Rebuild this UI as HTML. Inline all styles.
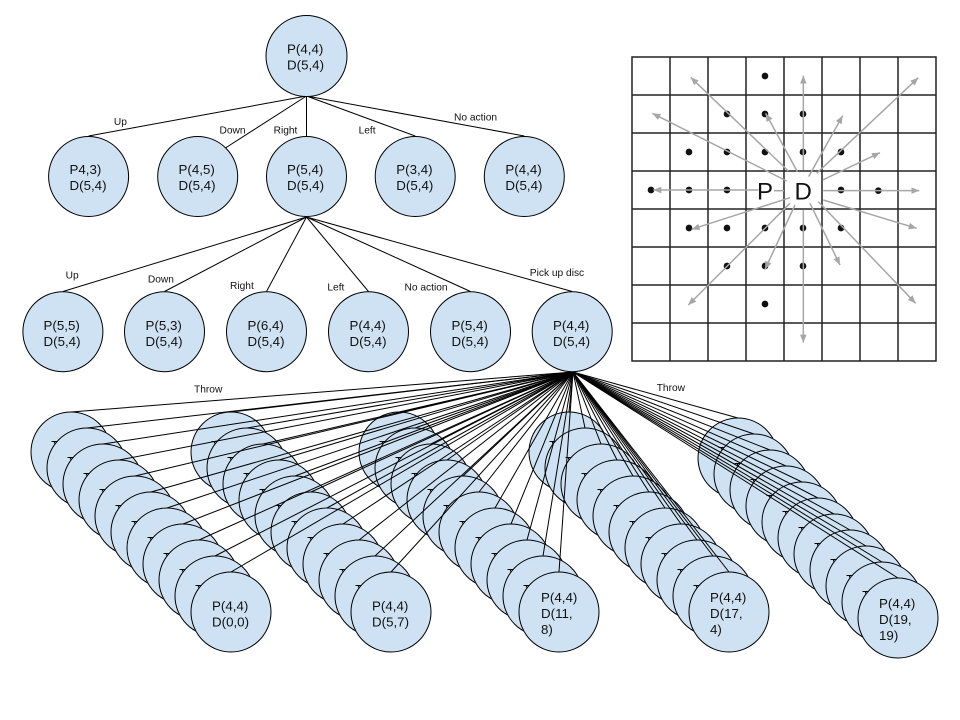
<!DOCTYPE html>
<html><head><meta charset="utf-8"><style>
html,body{margin:0;padding:0;background:#fff}
svg{display:block}
text{font-family:"Liberation Sans",sans-serif;font-size:13.33px;fill:#111}
.e{font-size:10.2px}
#t circle{fill:#cfe2f3;stroke:#000;stroke-width:1}
#t path{stroke:#000;stroke-width:1;fill:none}
</style></head><body>
<svg width="960" height="720" viewBox="0 0 960 720" xmlns="http://www.w3.org/2000/svg">
<rect width="960" height="720" fill="#fff"/>
<g id="t">
<path d="M306.5 96L88.6 136M306.5 96L225.4 148M306.5 96V136M306.5 96L415.2 136M306.5 96L524.3 136"/>
<path d="M306.5 217L62.9 291.5M306.5 217L164.5 291.5M306.5 217L266.5 291.5M306.5 217L368.5 291.5M306.5 217L470.5 291.5M306.5 217L572.2 291.5"/>
<circle cx="306.5" cy="56" r="40.5"/><text x="287" y="53.5">P(4,4)</text><text x="287" y="69.5">D(5,4)</text>
<circle cx="88.6" cy="176.5" r="40"/><text x="69.5" y="174">P4,3)</text><text x="69.5" y="190">D(5,4)</text>
<circle cx="197.7" cy="176.5" r="40"/><text x="178.5" y="174">P(4,5)</text><text x="178.5" y="190">D(5,4)</text>
<circle cx="306.5" cy="176.5" r="40"/><text x="287" y="174">P(5,4)</text><text x="287" y="190">D(5,4)</text>
<circle cx="415.2" cy="176.5" r="40"/><text x="396.3" y="174">P(3,4)</text><text x="396.3" y="190">D(5,4)</text>
<circle cx="524.3" cy="176.5" r="40"/><text x="505.4" y="174">P(4,4)</text><text x="505.4" y="190">D(5,4)</text>
<circle cx="62.9" cy="331.7" r="40"/><text x="43.5" y="330">P(5,5)</text><text x="43.5" y="346">D(5,4)</text>
<circle cx="164.5" cy="331.7" r="40"/><text x="145.5" y="330">P(5,3)</text><text x="145.5" y="346">D(5,4)</text>
<circle cx="266.5" cy="331.7" r="40"/><text x="247.5" y="330">P(6,4)</text><text x="247.5" y="346">D(5,4)</text>
<circle cx="368.5" cy="331.7" r="40"/><text x="349.5" y="330">P(4,4)</text><text x="349.5" y="346">D(5,4)</text>
<circle cx="470.5" cy="331.7" r="40"/><text x="451.5" y="330">P(5,4)</text><text x="451.5" y="346">D(5,4)</text>
<circle cx="572.2" cy="331.7" r="40"/><text x="553" y="330">P(4,4)</text><text x="553" y="346">D(5,4)</text>

<circle cx="738" cy="458" r="40"/><path d="M718.5 447.5h6M721.5 447.5v2M573 372L738 418"/>
<circle cx="754" cy="474" r="40"/><path d="M734.5 463.5h6M737.5 463.5v2M573 372L754 434"/>
<circle cx="770" cy="490" r="40"/><path d="M750.5 479.5h6M753.5 479.5v2M573 372L770 450"/>
<circle cx="786" cy="506" r="40"/><path d="M766.5 495.5h6M769.5 495.5v2M573 372L786 466"/>
<circle cx="802" cy="522" r="40"/><path d="M782.5 511.5h6M785.5 511.5v2M573 372L802 482"/>
<circle cx="818" cy="538" r="40"/><path d="M798.5 527.5h6M801.5 527.5v2M573 372L818 498"/>
<circle cx="834" cy="554" r="40"/><path d="M814.5 543.5h6M817.5 543.5v2M573 372L834 514"/>
<circle cx="850" cy="570" r="40"/><path d="M830.5 559.5h6M833.5 559.5v2M573 372L850 530"/>
<circle cx="866" cy="586" r="40"/><path d="M846.5 575.5h6M849.5 575.5v2M573 372L866 546"/>
<circle cx="882" cy="602" r="40"/><path d="M862.5 591.5h6M865.5 591.5v2M573 372L882 562"/>
<circle cx="898" cy="618" r="40"/><text x="879" y="608">P(4,4)</text><text x="879" y="624">D(19,</text><text x="879" y="640">19)</text><path d="M573 372L898 578"/>

<circle cx="569" cy="452" r="40"/><path d="M549.5 441.5h6M552.5 441.5v2M573 372L569 412"/>
<circle cx="585" cy="468" r="40"/><path d="M565.5 457.5h6M568.5 457.5v2M573 372L585 428"/>
<circle cx="601" cy="484" r="40"/><path d="M581.5 473.5h6M584.5 473.5v2M573 372L601 444"/>
<circle cx="617" cy="500" r="40"/><path d="M597.5 489.5h6M600.5 489.5v2M573 372L617 460"/>
<circle cx="633" cy="516" r="40"/><path d="M613.5 505.5h6M616.5 505.5v2M573 372L633 476"/>
<circle cx="649" cy="532" r="40"/><path d="M629.5 521.5h6M632.5 521.5v2M573 372L649 492"/>
<circle cx="665" cy="548" r="40"/><path d="M645.5 537.5h6M648.5 537.5v2M573 372L665 508"/>
<circle cx="681" cy="564" r="40"/><path d="M661.5 553.5h6M664.5 553.5v2M573 372L681 524"/>
<circle cx="697" cy="580" r="40"/><path d="M677.5 569.5h6M680.5 569.5v2M573 372L697 540"/>
<circle cx="713" cy="596" r="40"/><path d="M693.5 585.5h6M696.5 585.5v2M573 372L713 556"/>
<circle cx="729" cy="612" r="40"/><text x="710" y="602">P(4,4)</text><text x="710" y="618">D(17,</text><text x="710" y="634">4)</text><path d="M573 372L729 572"/>

<circle cx="399" cy="452" r="40"/><path d="M379.5 441.5h6M382.5 441.5v2M573 372L399 412"/>
<circle cx="415" cy="468" r="40"/><path d="M395.5 457.5h6M398.5 457.5v2M573 372L415 428"/>
<circle cx="431" cy="484" r="40"/><path d="M411.5 473.5h6M414.5 473.5v2M573 372L431 444"/>
<circle cx="447" cy="500" r="40"/><path d="M427.5 489.5h6M430.5 489.5v2M573 372L447 460"/>
<circle cx="463" cy="516" r="40"/><path d="M443.5 505.5h6M446.5 505.5v2M573 372L463 476"/>
<circle cx="479" cy="532" r="40"/><path d="M459.5 521.5h6M462.5 521.5v2M573 372L479 492"/>
<circle cx="495" cy="548" r="40"/><path d="M475.5 537.5h6M478.5 537.5v2M573 372L495 508"/>
<circle cx="511" cy="564" r="40"/><path d="M491.5 553.5h6M494.5 553.5v2M573 372L511 524"/>
<circle cx="527" cy="580" r="40"/><path d="M507.5 569.5h6M510.5 569.5v2M573 372L527 540"/>
<circle cx="543" cy="596" r="40"/><path d="M523.5 585.5h6M526.5 585.5v2M573 372L543 556"/>
<circle cx="559" cy="612" r="40"/><text x="541" y="602">P(4,4)</text><text x="541" y="618">D(11,</text><text x="541" y="634">8)</text><path d="M573 372L559 572"/>

<circle cx="231" cy="452" r="40"/><path d="M211.5 441.5h6M214.5 441.5v2M573 372L231 412"/>
<circle cx="247" cy="468" r="40"/><path d="M227.5 457.5h6M230.5 457.5v2M573 372L247 428"/>
<circle cx="263" cy="484" r="40"/><path d="M243.5 473.5h6M246.5 473.5v2M573 372L263 444"/>
<circle cx="279" cy="500" r="40"/><path d="M259.5 489.5h6M262.5 489.5v2M573 372L279 460"/>
<circle cx="295" cy="516" r="40"/><path d="M275.5 505.5h6M278.5 505.5v2M573 372L295 476"/>
<circle cx="311" cy="532" r="40"/><path d="M291.5 521.5h6M294.5 521.5v2M573 372L311 492"/>
<circle cx="327" cy="548" r="40"/><path d="M307.5 537.5h6M310.5 537.5v2M573 372L327 508"/>
<circle cx="343" cy="564" r="40"/><path d="M323.5 553.5h6M326.5 553.5v2M573 372L343 524"/>
<circle cx="359" cy="580" r="40"/><path d="M339.5 569.5h6M342.5 569.5v2M573 372L359 540"/>
<circle cx="375" cy="596" r="40"/><path d="M355.5 585.5h6M358.5 585.5v2M573 372L375 556"/>
<circle cx="391" cy="612" r="40"/><text x="372" y="610.5">P(4,4)</text><text x="372" y="626.5">D(5,7)</text><path d="M573 372L391 572"/>

<circle cx="71" cy="452" r="40"/><path d="M51.5 441.5h6M54.5 441.5v2M573 372L71 412"/>
<circle cx="87" cy="468" r="40"/><path d="M67.5 457.5h6M70.5 457.5v2M573 372L87 428"/>
<circle cx="103" cy="484" r="40"/><path d="M83.5 473.5h6M86.5 473.5v2M573 372L103 444"/>
<circle cx="119" cy="500" r="40"/><path d="M99.5 489.5h6M102.5 489.5v2M573 372L119 460"/>
<circle cx="135" cy="516" r="40"/><path d="M115.5 505.5h6M118.5 505.5v2M573 372L135 476"/>
<circle cx="151" cy="532" r="40"/><path d="M131.5 521.5h6M134.5 521.5v2M573 372L151 492"/>
<circle cx="167" cy="548" r="40"/><path d="M147.5 537.5h6M150.5 537.5v2M573 372L167 508"/>
<circle cx="183" cy="564" r="40"/><path d="M163.5 553.5h6M166.5 553.5v2M573 372L183 524"/>
<circle cx="199" cy="580" r="40"/><path d="M179.5 569.5h6M182.5 569.5v2M573 372L199 540"/>
<circle cx="215" cy="596" r="40"/><path d="M195.5 585.5h6M198.5 585.5v2M573 372L215 556"/>
<circle cx="231" cy="612" r="40"/><text x="212" y="610.5">P(4,4)</text><text x="212" y="626.5">D(0,0)</text><path d="M573 372L231 572"/>
</g>

<text class="e" x="113.9" y="125">Up</text>
<text class="e" x="219.5" y="133.3">Down</text>
<text class="e" x="273.6" y="133.3">Right</text>
<text class="e" x="358.6" y="133.3">Left</text>
<text class="e" x="454" y="120.7">No action</text>
<text class="e" x="65.6" y="278.3">Up</text>
<text class="e" x="147.9" y="282.7">Down</text>
<text class="e" x="230" y="289">Right</text>
<text class="e" x="327.4" y="290.7">Left</text>
<text class="e" x="404.5" y="290.7">No action</text>
<text class="e" x="529.8" y="276">Pick up disc</text>
<text class="e" x="194" y="392.3">Throw</text>
<text class="e" x="656.7" y="391">Throw</text>

<defs><marker id="a" markerUnits="userSpaceOnUse" markerWidth="26" markerHeight="22" refX="24" refY="11" orient="auto"><path d="M0 1L24 11L0 21Z" fill="#a6a6a6"/></marker></defs>
<g transform="translate(620 45) scale(.33333)">
<rect x="36" y="36" width="912" height="912" fill="#fff"/>
<path d="M36 36H948V948H36ZM36 150H948M36 264H948M36 378H948M36 492H948M36 606H948M36 720H948M36 834H948M150 36V948M264 36V948M378 36V948M492 36V948M606 36V948M720 36V948M834 36V948" fill="none" stroke="#222" stroke-width="4.5"/>
<g fill="#111">
<circle cx="435" cy="93" r="10"/><circle cx="321" cy="207" r="10"/><circle cx="435" cy="207" r="10"/><circle cx="549" cy="207" r="10"/>
<circle cx="207" cy="321" r="10"/><circle cx="321" cy="321" r="10"/><circle cx="435" cy="321" r="10"/><circle cx="549" cy="321" r="10"/><circle cx="663" cy="321" r="10"/>
<circle cx="93" cy="435" r="10"/><circle cx="207" cy="435" r="10"/><circle cx="321" cy="435" r="10"/><circle cx="663" cy="435" r="10"/><circle cx="775" cy="437" r="10"/>
<circle cx="207" cy="549" r="10"/><circle cx="321" cy="549" r="10"/><circle cx="435" cy="549" r="10"/><circle cx="549" cy="549" r="10"/><circle cx="663" cy="549" r="10"/>
<circle cx="321" cy="663" r="10"/><circle cx="435" cy="663" r="10"/><circle cx="549" cy="663" r="10"/><circle cx="435" cy="777" r="10"/>
</g>
<g stroke="#a6a6a6" stroke-width="4.5" fill="none">
<path d="M550 375L550 92" marker-end="url(#a)"/>
<path d="M505 378L212 97" marker-end="url(#a)"/>
<path d="M500 408L97 205" marker-end="url(#a)"/>
<path d="M532 380L437 205" marker-end="url(#a)"/>
<path d="M566 395L668 212" marker-end="url(#a)"/>
<path d="M590 385L895 98" marker-end="url(#a)"/>
<path d="M608 405L780 323" marker-end="url(#a)"/>
<path d="M610 437L898 437" marker-end="url(#a)"/>
<path d="M610 465L890 550" marker-end="url(#a)"/>
<path d="M595 470L887 775" marker-end="url(#a)"/>
<path d="M570 475L660 660" marker-end="url(#a)"/>
<path d="M550 495L550 893" marker-end="url(#a)"/>
<path d="M525 480L435 673" marker-end="url(#a)"/>
<path d="M510 475L205 780" marker-end="url(#a)"/>
<path d="M510 458L215 553" marker-end="url(#a)"/>
<path d="M415 435L100 435" marker-end="url(#a)"/>
<path d="M462 437L492 437"/>
</g>
</g>
<text x="757" y="199.5" style="font-size:24px">P</text>
<text x="794.5" y="199.5" style="font-size:24px">D</text>
</svg>
</body></html>
